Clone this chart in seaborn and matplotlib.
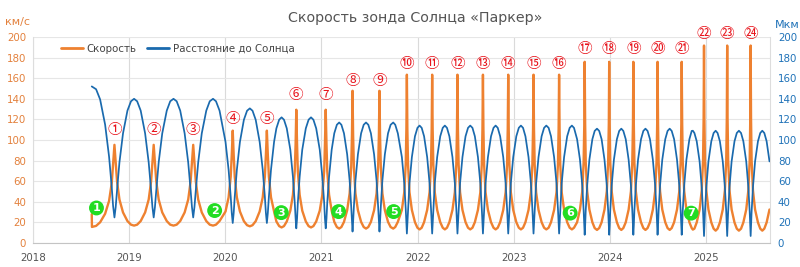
import matplotlib
matplotlib.use("Agg")
import matplotlib.pyplot as plt
from matplotlib.lines import Line2D
import seaborn as sns
import pandas as pd

# ---- data (decimal years, km/s, million km) ----
TIME = [
    2018.611, 2018.613, 2018.656, 2018.698, 2018.750, 2018.791, 2018.819, 2018.833,
    2018.847,
    2018.860, 2018.874, 2018.899, 2018.936, 2018.982, 2019.019, 2019.051, 2019.083, 2019.120, 2019.166, 2019.203, 2019.228, 2019.242,
    2019.255,
    2019.268, 2019.282, 2019.307, 2019.344, 2019.391, 2019.427, 2019.461, 2019.494, 2019.531, 2019.577, 2019.614, 2019.639, 2019.653,
    2019.666,
    2019.679, 2019.693, 2019.718, 2019.755, 2019.802, 2019.838, 2019.872, 2019.903, 2019.940, 2020.002, 2020.034, 2020.056, 2020.067,
    2020.077,
    2020.087, 2020.098, 2020.120, 2020.152, 2020.193, 2020.226, 2020.255, 2020.283, 2020.316, 2020.357, 2020.389, 2020.411, 2020.422,
    2020.432,
    2020.442, 2020.453, 2020.475, 2020.507, 2020.531, 2020.560, 2020.585, 2020.610, 2020.639, 2020.676, 2020.703, 2020.722, 2020.731,
    2020.738,
    2020.746, 2020.754, 2020.773, 2020.800, 2020.837, 2020.866, 2020.891, 2020.916, 2020.945, 2020.982, 2021.009, 2021.028, 2021.036,
    2021.044,
    2021.052, 2021.060, 2021.079, 2021.106, 2021.133, 2021.160, 2021.184, 2021.207, 2021.234, 2021.267, 2021.293, 2021.309, 2021.317,
    2021.323,
    2021.329, 2021.337, 2021.353, 2021.379, 2021.412, 2021.439, 2021.463, 2021.487, 2021.514, 2021.547, 2021.573, 2021.589, 2021.597,
    2021.603,
    2021.609, 2021.617, 2021.633, 2021.659, 2021.692, 2021.719, 2021.746, 2021.767, 2021.794, 2021.836, 2021.861, 2021.876, 2021.883,
    2021.888,
    2021.893, 2021.900, 2021.915, 2021.940, 2021.972, 2021.998, 2022.020, 2022.042, 2022.067, 2022.099, 2022.124, 2022.139, 2022.146,
    2022.151,
    2022.156, 2022.163, 2022.178, 2022.203, 2022.235, 2022.261, 2022.283, 2022.305, 2022.330, 2022.362, 2022.387, 2022.402, 2022.409,
    2022.414,
    2022.419, 2022.426, 2022.441, 2022.466, 2022.498, 2022.524, 2022.547, 2022.570, 2022.595, 2022.627, 2022.652, 2022.667, 2022.674,
    2022.679,
    2022.684, 2022.691, 2022.706, 2022.731, 2022.763, 2022.789, 2022.811, 2022.833, 2022.858, 2022.890, 2022.915, 2022.930, 2022.937,
    2022.942,
    2022.947, 2022.954, 2022.969, 2022.994, 2023.026, 2023.052, 2023.074, 2023.096, 2023.121, 2023.153, 2023.178, 2023.193, 2023.200,
    2023.205,
    2023.210, 2023.217, 2023.232, 2023.257, 2023.289, 2023.315, 2023.338, 2023.362, 2023.387, 2023.419, 2023.444, 2023.459, 2023.466,
    2023.471,
    2023.476, 2023.483, 2023.498, 2023.523, 2023.555, 2023.581, 2023.604, 2023.626, 2023.658, 2023.688, 2023.712, 2023.726, 2023.733,
    2023.737,
    2023.742, 2023.748, 2023.763, 2023.786, 2023.817, 2023.841, 2023.865, 2023.888, 2023.913, 2023.943, 2023.967, 2023.981, 2023.988,
    2023.992,
    2023.997, 2024.003, 2024.018, 2024.041, 2024.072, 2024.096, 2024.118, 2024.139, 2024.164, 2024.194, 2024.218, 2024.232, 2024.239,
    2024.243,
    2024.248, 2024.254, 2024.269, 2024.292, 2024.323, 2024.347, 2024.369, 2024.391, 2024.416, 2024.446, 2024.470, 2024.484, 2024.491,
    2024.495,
    2024.500, 2024.506, 2024.521, 2024.544, 2024.575, 2024.599, 2024.621, 2024.642, 2024.667, 2024.697, 2024.721, 2024.735, 2024.742,
    2024.746,
    2024.751, 2024.757, 2024.772, 2024.795, 2024.826, 2024.850, 2024.862, 2024.878, 2024.902, 2024.932, 2024.954, 2024.968, 2024.974,
    2024.978,
    2024.982, 2024.988, 2025.002, 2025.024, 2025.054, 2025.078, 2025.099, 2025.119, 2025.143, 2025.173, 2025.195, 2025.209, 2025.215,
    2025.219,
    2025.223, 2025.229, 2025.243, 2025.265, 2025.295, 2025.319, 2025.341, 2025.363, 2025.387, 2025.417, 2025.439, 2025.453, 2025.459,
    2025.463,
    2025.467, 2025.473, 2025.487, 2025.509, 2025.539, 2025.563, 2025.584, 2025.605, 2025.629, 2025.659,
]

DIST = [
    152.0, 151.9, 149.3, 139.4, 114.9, 83.9, 54.0, 35.9,
    24.8,
    34.9, 51.3, 78.3, 106.4, 128.5, 137.6, 140.0, 137.6, 128.5, 106.4, 78.3, 51.3, 34.9,
    24.8,
    34.9, 51.3, 78.3, 106.4, 128.5, 137.6, 140.0, 137.6, 128.5, 106.4, 78.3, 51.3, 34.9,
    24.8,
    34.9, 51.3, 78.3, 106.4, 128.5, 137.6, 140.0, 137.6, 128.5, 98.2, 71.1, 45.0, 29.1,
    19.4,
    29.1, 45.0, 71.1, 98.2, 119.6, 128.4, 130.7, 128.4, 119.6, 98.2, 71.1, 45.0, 29.1,
    19.4,
    29.1, 45.0, 71.1, 98.2, 111.3, 119.7, 122.0, 119.7, 111.3, 90.5, 64.3, 39.0, 23.6,
    14.2,
    23.6, 39.0, 64.3, 90.5, 111.3, 119.7, 122.0, 119.7, 111.3, 90.5, 64.3, 39.0, 23.6,
    14.2,
    23.6, 39.0, 64.3, 90.5, 106.5, 114.8, 117.0, 114.8, 106.5, 86.1, 60.3, 35.4, 20.4,
    11.1,
    20.4, 35.4, 60.3, 86.1, 106.5, 114.8, 117.0, 114.8, 106.5, 86.1, 60.3, 35.4, 20.4,
    11.1,
    20.4, 35.4, 60.3, 86.1, 106.5, 114.8, 117.0, 114.8, 106.5, 83.4, 57.9, 33.3, 18.4,
    9.2,
    18.4, 33.3, 57.9, 83.4, 103.6, 111.8, 114.0, 111.8, 103.6, 83.4, 57.9, 33.3, 18.4,
    9.2,
    18.4, 33.3, 57.9, 83.4, 103.6, 111.8, 114.0, 111.8, 103.6, 83.4, 57.9, 33.3, 18.4,
    9.2,
    18.4, 33.3, 57.9, 83.4, 103.6, 111.8, 114.0, 111.8, 103.6, 83.4, 57.9, 33.3, 18.4,
    9.2,
    18.4, 33.3, 57.9, 83.4, 103.6, 111.8, 114.0, 111.8, 103.6, 83.4, 57.9, 33.3, 18.4,
    9.2,
    18.4, 33.3, 57.9, 83.4, 103.6, 111.8, 114.0, 111.8, 103.6, 83.4, 57.9, 33.3, 18.4,
    9.2,
    18.4, 33.3, 57.9, 83.4, 103.6, 111.8, 114.0, 111.8, 103.6, 83.4, 57.9, 33.3, 18.4,
    9.2,
    18.4, 33.3, 57.9, 83.4, 103.6, 111.8, 114.0, 111.8, 100.8, 80.9, 55.9, 31.7, 17.0,
    8.0,
    17.0, 31.7, 55.9, 80.9, 100.8, 108.8, 111.0, 108.8, 100.8, 80.9, 55.9, 31.7, 17.0,
    8.0,
    17.0, 31.7, 55.9, 80.9, 100.8, 108.8, 111.0, 108.8, 100.8, 80.9, 55.9, 31.7, 17.0,
    8.0,
    17.0, 31.7, 55.9, 80.9, 100.8, 108.8, 111.0, 108.8, 100.8, 80.9, 55.9, 31.7, 17.0,
    8.0,
    17.0, 31.7, 55.9, 80.9, 100.8, 108.8, 111.0, 108.8, 100.8, 80.9, 55.9, 31.7, 17.0,
    8.0,
    17.0, 31.7, 55.9, 80.9, 100.8, 108.8, 109.0, 106.8, 98.8, 79.2, 54.3, 30.3, 15.7,
    6.8,
    15.7, 30.3, 54.3, 79.2, 98.8, 106.8, 109.0, 106.8, 98.8, 79.2, 54.3, 30.3, 15.7,
    6.8,
    15.7, 30.3, 54.3, 79.2, 98.8, 106.8, 109.0, 106.8, 98.8, 79.2, 54.3, 30.3, 15.7,
    6.8,
    15.7, 30.3, 54.3, 79.2, 98.8, 106.8, 109.0, 106.8, 98.8, 79.2,
]

SPEED = [
    28.0, 15.6, 16.6, 20.1, 28.4, 40.8, 58.4, 76.8,
    95.3,
    77.4, 59.7, 42.2, 29.7, 21.3, 17.8, 16.9, 17.8, 21.3, 29.7, 42.2, 59.7, 77.4,
    95.3,
    77.4, 59.7, 42.2, 29.7, 21.3, 17.8, 16.9, 17.8, 21.3, 29.7, 42.2, 59.7, 77.4,
    95.3,
    77.4, 59.7, 42.2, 29.7, 21.3, 17.8, 16.9, 17.8, 21.3, 30.6, 44.3, 64.3, 85.7,
    109.1,
    85.7, 64.3, 44.3, 30.6, 21.2, 17.3, 16.2, 17.3, 21.2, 30.6, 44.3, 64.3, 85.7,
    109.1,
    85.7, 64.3, 44.3, 30.6, 20.9, 16.4, 15.1, 16.4, 20.9, 31.4, 46.7, 69.7, 96.4,
    129.4,
    96.4, 69.7, 46.7, 31.4, 20.9, 16.4, 15.1, 16.4, 20.9, 31.4, 46.7, 69.7, 96.4,
    129.4,
    96.4, 69.7, 46.7, 31.4, 20.5, 15.5, 14.0, 15.5, 20.5, 31.8, 48.3, 73.7, 104.7,
    147.8,
    104.7, 73.7, 48.3, 31.8, 20.5, 15.5, 14.0, 15.5, 20.5, 31.8, 48.3, 73.7, 104.7,
    147.8,
    104.7, 73.7, 48.3, 31.8, 20.5, 15.5, 14.0, 15.5, 20.5, 32.1, 49.3, 76.3, 110.8,
    163.4,
    110.8, 76.3, 49.3, 32.1, 20.2, 14.8, 13.2, 14.8, 20.2, 32.1, 49.3, 76.3, 110.8,
    163.4,
    110.8, 76.3, 49.3, 32.1, 20.2, 14.8, 13.2, 14.8, 20.2, 32.1, 49.3, 76.3, 110.8,
    163.4,
    110.8, 76.3, 49.3, 32.1, 20.2, 14.8, 13.2, 14.8, 20.2, 32.1, 49.3, 76.3, 110.8,
    163.4,
    110.8, 76.3, 49.3, 32.1, 20.2, 14.8, 13.2, 14.8, 20.2, 32.1, 49.3, 76.3, 110.8,
    163.4,
    110.8, 76.3, 49.3, 32.1, 20.2, 14.8, 13.2, 14.8, 20.2, 32.1, 49.3, 76.3, 110.8,
    163.4,
    110.8, 76.3, 49.3, 32.1, 20.2, 14.8, 13.2, 14.8, 20.2, 32.1, 49.3, 76.3, 110.8,
    163.4,
    110.8, 76.3, 49.3, 32.1, 20.2, 14.8, 13.2, 14.8, 20.1, 32.4, 50.2, 78.4, 115.7,
    175.9,
    115.7, 78.4, 50.2, 32.4, 20.1, 14.5, 12.7, 14.5, 20.1, 32.4, 50.2, 78.4, 115.7,
    175.9,
    115.7, 78.4, 50.2, 32.4, 20.1, 14.5, 12.7, 14.5, 20.1, 32.4, 50.2, 78.4, 115.7,
    175.9,
    115.7, 78.4, 50.2, 32.4, 20.1, 14.5, 12.7, 14.5, 20.1, 32.4, 50.2, 78.4, 115.7,
    175.9,
    115.7, 78.4, 50.2, 32.4, 20.1, 14.5, 12.7, 14.5, 20.1, 32.4, 50.2, 78.4, 115.7,
    175.9,
    115.7, 78.4, 50.2, 32.4, 20.1, 14.5, 13.0, 13.9, 19.9, 32.5, 51.0, 80.4, 120.9,
    191.7,
    120.9, 80.4, 51.0, 32.5, 19.9, 13.9, 12.0, 13.9, 19.9, 32.5, 51.0, 80.4, 120.9,
    191.7,
    120.9, 80.4, 51.0, 32.5, 19.9, 13.9, 12.0, 13.9, 19.9, 32.5, 51.0, 80.4, 120.9,
    191.7,
    120.9, 80.4, 51.0, 32.5, 19.9, 13.9, 12.0, 13.9, 19.9, 32.5,
]

# perihelion labels
PERI_X = [2018.847, 2019.255, 2019.666, 2020.077, 2020.432, 2020.738, 2021.044, 2021.323,
          2021.603, 2021.888, 2022.151, 2022.414, 2022.679, 2022.942, 2023.205, 2023.471,
          2023.737, 2023.992, 2024.243, 2024.495, 2024.746, 2024.978, 2025.219, 2025.463]
PERI_LABELS = ["①", "②", "③", "④", "⑤", "⑥", "⑦", "⑧", "⑨", "⑩", "⑪", "⑫",
               "⑬", "⑭", "⑮", "⑯", "⑰", "⑱", "⑲", "⑳", "㉑", "㉒", "㉓", "㉔"]
PERI_LABEL_Y = [110, 110, 110, 120, 120, 143.5, 143.5, 157.5, 157.5,
                173.5, 173.5, 173.5, 173.5, 173.5, 173.5, 173.5,
                188, 188, 188, 188, 188, 202.5, 202.5, 202.5]

# Venus flyby labels
VENUS_X = [2018.66, 2019.889, 2020.582, 2021.178, 2021.75, 2023.586, 2024.844]
VENUS_Y = [34, 31.5, 29.5, 30.5, 30.5, 29, 29]
VENUS_LABELS = ["1", "2", "3", "4", "5", "6", "7"]

YEARS = [2018, 2019, 2020, 2021, 2022, 2023, 2024, 2025]
Y_TICKS = [0, 20, 40, 60, 80, 100, 120, 140, 160, 180, 200]

TITLE = "Скорость зонда Солнца «Паркер»"
SERIES_NAMES = ["Скорость", "Расстояние до Солнца"]

ORANGE = "#EE8130"
ORANGE_TXT = "#E3813D"
BLUE = "#1A6AAE"
BLUE_TXT = "#1F72B8"
RED = "#E8141C"
GREEN = "#22DD22"

assert len(TIME) == len(DIST) == len(SPEED), (len(TIME), len(DIST), len(SPEED))

sns.set_theme(style="white")
plt.rcParams['font.family'] = ['DejaVu Sans', 'Noto Sans CJK JP']

df = pd.DataFrame({"t": TIME, "v": SPEED, "r": DIST})

W, H = 800, 267
fig = plt.figure(figsize=(W / 100, H / 100), dpi=100)
L, R, T, B = 33, 769.5, 37, 243
ax = fig.add_axes([L / W, 1 - B / H, (R - L) / W, (B - T) / H])
ax2 = ax.twinx()

sns.lineplot(data=df, x="t", y="v", ax=ax, color=ORANGE, lw=1.7,
             sort=False, estimator=None)
sns.lineplot(data=df, x="t", y="r", ax=ax2, color=BLUE, lw=1.25,
             sort=False, estimator=None)

ax.set_xlim(YEARS[0], TIME[-1])
ax.set_ylim(0, 200)
ax2.set_ylim(0, 200)
ax.set_xlabel("")
ax.set_ylabel("")
ax2.set_ylabel("")

ax.set_xticks(YEARS)
ax.set_xticklabels([str(y) for y in YEARS])
ax.set_yticks(Y_TICKS)
ax2.set_yticks(Y_TICKS)

ax.set_axisbelow(True)
ax.grid(axis="y", color="#e6e6e6", lw=0.8)
ax.grid(axis="x", color="#dadada", lw=0.8)

ax.tick_params(axis="x", colors="#cccccc", labelcolor="#555555", labelsize=7.4,
               length=3, width=0.8, pad=4)
ax.tick_params(axis="y", labelcolor=ORANGE_TXT, labelsize=7.4, length=0, pad=5)
ax2.tick_params(axis="y", labelcolor=BLUE_TXT, labelsize=7.4, length=0, pad=6)

for a in (ax, ax2):
    a.spines["top"].set_visible(False)
for s in ("left", "right"):
    ax.spines[s].set_color("#dddddd")
    ax.spines[s].set_linewidth(0.8)
ax.spines["bottom"].set_color("#c4c4c4")
ax.spines["bottom"].set_linewidth(0.8)
for s in ("left", "right", "bottom"):
    ax2.spines[s].set_visible(False)

# perihelion number labels
for x, y, lab in zip(PERI_X, PERI_LABEL_Y, PERI_LABELS):
    ax2.text(x, y, lab, color=RED, ha="center", va="center", fontsize=10.5,
             family=["Noto Sans CJK JP", "DejaVu Sans"], clip_on=False, zorder=6)

# Venus flyby markers
ax2.scatter(VENUS_X, VENUS_Y, s=115, color=GREEN, edgecolor="none", zorder=7, clip_on=False)
for x, y, lab in zip(VENUS_X, VENUS_Y, VENUS_LABELS):
    ax2.text(x, y, lab, color="white", ha="center", va="center", fontsize=8,
             fontweight="bold", zorder=8)

handles = [Line2D([], [], color=ORANGE, lw=2.0), Line2D([], [], color=BLUE, lw=2.0)]
ax2.legend(handles, SERIES_NAMES, loc="upper left", bbox_to_anchor=(61 / W, 1 - 43.5 / H),
           bbox_transform=fig.transFigure, ncol=2, frameon=False, fontsize=7.4,
           handlelength=2.1, handletextpad=0.4, columnspacing=1.0, borderpad=0,
           borderaxespad=0, labelcolor="#444444")

fig.text(415.5 / W, 1 - 18 / H, TITLE, ha="center", va="center", fontsize=10.3, color="#555555")
fig.text(5 / W, 1 - 22 / H, "км/с", ha="left", va="center", fontsize=8, color=ORANGE_TXT)
fig.text(775 / W, 1 - 25 / H, "Мкм", ha="left", va="center", fontsize=8, color=BLUE_TXT)

fig.savefig("out.png", dpi=100)
